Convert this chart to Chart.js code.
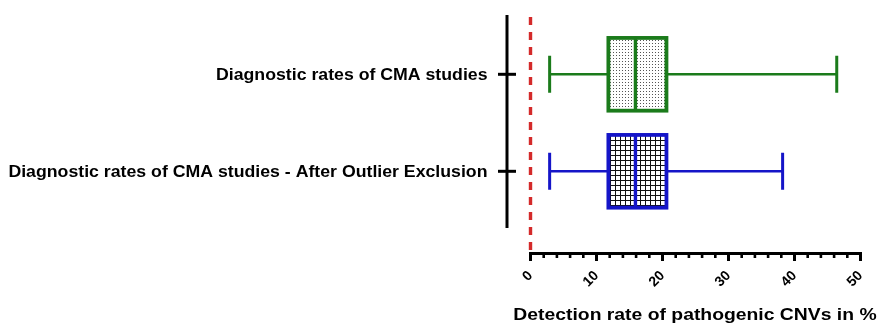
<!DOCTYPE html>
<html>
<head>
<meta charset="utf-8">
<script src="https://cdn.jsdelivr.net/npm/chart.js@4.4.1/dist/chart.umd.min.js"></script>
<style>
  html, body { margin: 0; padding: 0; background: #ffffff; }
  #wrap { width: 878px; height: 325px; }
</style>
</head>
<body>
<div id="wrap"><canvas id="c" width="878" height="325"></canvas></div>
<script>
// Box-and-whisker summary, one row per category
const categories = [
  'Diagnostic rates of CMA studies',
  'Diagnostic rates of CMA studies - After Outlier Exclusion'
];
const whiskerLow  = [2.9, 2.9];
const quartile1   = [11.8, 11.8];
const medians     = [15.9, 15.9];
const quartile3   = [20.6, 20.6];
const whiskerHigh = [46.4, 38.2];

const xTickValues = [0, 10, 20, 30, 40, 50];
const xMinorStep = 2;
const referenceValue = 0;
const xAxisTitle = 'Detection rate of pathogenic CNVs in %';

const boxColors = ['#1b7b1b', '#1515c8'];
const FONT = '"Liberation Sans", Arial, Helvetica, sans-serif';

// Fill patterns: stipple dots and a fine grid
function makeDotPattern() {
  const c = document.createElement('canvas');
  c.width = 3; c.height = 3;
  const g = c.getContext('2d');
  g.fillStyle = '#ffffff'; g.fillRect(0, 0, 3, 3);
  g.fillStyle = '#555555'; g.fillRect(1, 1, 1, 1);
  return g.createPattern(c, 'repeat');
}
function makeGridPattern() {
  const c = document.createElement('canvas');
  c.width = 5; c.height = 5;
  const g = c.getContext('2d');
  g.fillStyle = '#ffffff'; g.fillRect(0, 0, 5, 5);
  g.fillStyle = '#111111';
  g.fillRect(0, 0, 5, 1);
  g.fillRect(0, 0, 1, 5);
  return g.createPattern(c, 'repeat');
}

// Whiskers, caps, box outline and median line for each row
const boxWhiskerPlugin = {
  id: 'boxWhisker',
  afterDatasetsDraw(chart) {
    const ctx = chart.ctx;
    const xs = chart.scales.x;
    const meta = chart.getDatasetMeta(0);
    meta.data.forEach((el, i) => {
      const { y, height } = el.getProps(['y', 'height'], true);
      const top = y - height / 2, bottom = y + height / 2;
      const pLow = xs.getPixelForValue(whiskerLow[i]);
      const pQ1 = xs.getPixelForValue(quartile1[i]);
      const pMed = xs.getPixelForValue(medians[i]);
      const pQ3 = xs.getPixelForValue(quartile3[i]);
      const pHigh = xs.getPixelForValue(whiskerHigh[i]);
      ctx.save();
      ctx.strokeStyle = boxColors[i];
      ctx.lineCap = 'butt';
      // whisker stems
      ctx.lineWidth = 2.6;
      ctx.beginPath();
      ctx.moveTo(pLow, y); ctx.lineTo(pQ1, y);
      ctx.moveTo(pQ3, y); ctx.lineTo(pHigh, y);
      ctx.stroke();
      // caps
      ctx.lineWidth = 3;
      ctx.beginPath();
      ctx.moveTo(pLow, y - 18.5); ctx.lineTo(pLow, y + 18.5);
      ctx.moveTo(pHigh, y - 18.5); ctx.lineTo(pHigh, y + 18.5);
      ctx.stroke();
      // box outline
      ctx.lineWidth = 3.8;
      ctx.strokeRect(pQ1, top, pQ3 - pQ1, bottom - top);
      // median
      ctx.lineWidth = 3.4;
      ctx.beginPath();
      ctx.moveTo(pMed, top); ctx.lineTo(pMed, bottom);
      ctx.stroke();
      ctx.restore();
    });
  }
};

// Detached axes, reference line, tick labels and titles
const axesPlugin = {
  id: 'detachedAxes',
  afterDraw(chart) {
    const ctx = chart.ctx;
    const xs = chart.scales.x;
    const ys = chart.scales.y;
    const area = chart.chartArea;
    const yAxisX = area.left - 23.5;
    const yAxisTop = 15, yAxisBottom = 228;
    const xAxisY = 253.5;

    ctx.save();
    // dashed reference line
    const pRef = xs.getPixelForValue(referenceValue);
    ctx.strokeStyle = '#d42a2a';
    ctx.lineWidth = 3.4;
    ctx.setLineDash([8, 7]);
    ctx.beginPath();
    ctx.moveTo(pRef, 17); ctx.lineTo(pRef, xAxisY - 2);
    ctx.stroke();
    ctx.setLineDash([]);

    // y axis line and category ticks
    ctx.strokeStyle = '#000000';
    ctx.lineWidth = 3;
    ctx.beginPath();
    ctx.moveTo(yAxisX, yAxisTop); ctx.lineTo(yAxisX, yAxisBottom);
    ctx.stroke();
    ctx.fillStyle = '#000000';
    ctx.font = 'bold 16.5px ' + FONT;
    ctx.textAlign = 'right';
    ctx.textBaseline = 'alphabetic';
    categories.forEach((label, i) => {
      const py = ys.getPixelForValue(i);
      ctx.beginPath();
      ctx.moveTo(yAxisX - 9, py); ctx.lineTo(yAxisX + 9, py);
      ctx.stroke();
      ctx.save();
      ctx.translate(yAxisX - 19.5, py + 6);
      ctx.scale(1.073, 1);
      ctx.fillText(label, 0, 0);
      ctx.restore();
    });

    // x axis line with major and minor ticks
    const x0 = xs.getPixelForValue(xs.min);
    const x1 = xs.getPixelForValue(xs.max);
    ctx.lineWidth = 3;
    ctx.beginPath();
    ctx.moveTo(x0 - 1.5, xAxisY); ctx.lineTo(x1 + 1.5, xAxisY);
    ctx.stroke();
    ctx.lineWidth = 2.6;
    ctx.beginPath();
    for (let v = xs.min; v <= xs.max + 1e-9; v += xMinorStep) {
      if (xTickValues.includes(v)) continue;
      const px = xs.getPixelForValue(v);
      ctx.moveTo(px, xAxisY); ctx.lineTo(px, xAxisY + 4.5);
    }
    ctx.stroke();
    ctx.lineWidth = 3;
    ctx.beginPath();
    xTickValues.forEach(v => {
      const px = xs.getPixelForValue(v);
      ctx.moveTo(px, xAxisY); ctx.lineTo(px, xAxisY + 7.5);
    });
    ctx.stroke();

    // rotated tick labels
    ctx.font = 'bold 14px ' + FONT;
    ctx.textAlign = 'right';
    ctx.textBaseline = 'middle';
    xTickValues.forEach(v => {
      const px = xs.getPixelForValue(v);
      ctx.save();
      ctx.translate(px, xAxisY + 20);
      ctx.rotate(-Math.PI / 4);
      ctx.fillText(String(v), 0, 0);
      ctx.restore();
    });

    // x axis title
    ctx.font = 'bold 17px ' + FONT;
    ctx.textAlign = 'left';
    ctx.textBaseline = 'alphabetic';
    ctx.save();
    ctx.translate(513.3, 319.7);
    ctx.scale(1.138, 1);
    ctx.fillText(xAxisTitle, 0, 0);
    ctx.restore();
    ctx.restore();
  }
};

const canvas = document.getElementById('c');
new Chart(canvas, {
  type: 'bar',
  data: {
    labels: categories,
    datasets: [{
      data: categories.map((_, i) => [quartile1[i], quartile3[i]]),
      backgroundColor: [makeDotPattern(), makeGridPattern()],
      borderWidth: 0,
      barPercentage: 0.75,
      categoryPercentage: 1.0
    }]
  },
  options: {
    indexAxis: 'y',
    responsive: false,
    animation: false,
    devicePixelRatio: 1,
    layout: { padding: { left: 530.5, right: 17.5, top: 25.8, bottom: 105.2 } },
    scales: {
      x: { type: 'linear', min: 0, max: 50, display: false },
      y: { type: 'category', display: false, offset: true }
    },
    plugins: {
      legend: { display: false },
      tooltip: { enabled: false }
    }
  },
  plugins: [boxWhiskerPlugin, axesPlugin]
});
</script>
</body>
</html>
